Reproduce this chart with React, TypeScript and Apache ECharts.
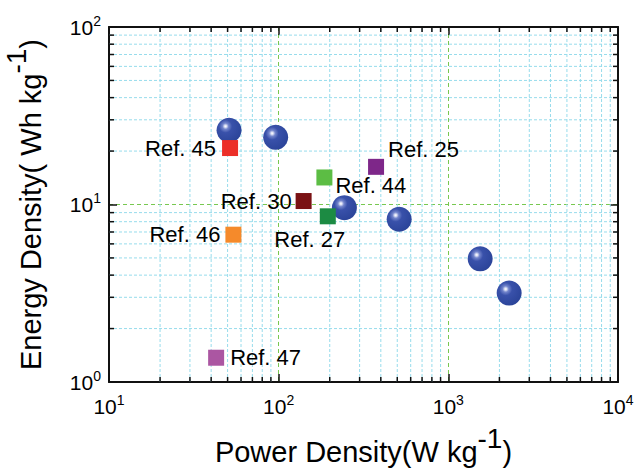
import React, { useEffect, useRef } from "react";
import * as echarts from "echarts";

// ---- data ----
const samplePower = [51, 96, 244, 513, 1540, 2283];
const sampleEnergy = [26.2, 23.9, 9.6, 8.26, 4.94, 3.17];

const refNames = ["Ref. 45", "Ref. 30", "Ref. 44", "Ref. 25", "Ref. 27", "Ref. 46", "Ref. 47"];
const refPower = [51.7, 140.3, 186, 375, 194.8, 54.1, 42.8];
const refEnergy = [20.8, 10.46, 14.2, 16.3, 8.58, 6.76, 1.37];

const xMinor = [20, 30, 40, 50, 60, 70, 80, 90, 200, 300, 400, 500, 600, 700, 800, 900, 2000, 3000, 4000, 5000, 6000, 7000, 8000, 9000];
const yMinor = [2, 3, 4, 5, 6, 7, 8, 9, 20, 30, 40, 50, 60, 70, 80, 90];

// ---- styles ----
const refColors = ["#ec2f28", "#7a1214", "#5cbd44", "#7e2789", "#1c8b43", "#f58a2b", "#ab56a2"];
const refLabelStyles: any[] = [
  { position: "left", distance: 6 },
  { position: "left", distance: 4 },
  { position: [19, 16], align: "left", verticalAlign: "middle" },
  { position: [20, -9], align: "left", verticalAlign: "middle" },
  { position: [-10, 31], align: "center", verticalAlign: "middle" },
  { position: "left", distance: 5 },
  { position: "right", distance: 6 },
];

const FONT = "'Liberation Sans', Arial, Helvetica, sans-serif";
const X_MIN = 10, X_MAX = 10000, Y_MIN = 1, Y_MAX = 100;

const tickRich = {
  b: { fontSize: 21, fontFamily: FONT, color: "#000", lineHeight: 24 },
  s: { fontSize: 14, fontFamily: FONT, color: "#000", lineHeight: 16, padding: [0, 0, 13, 0] },
};
const titleRich = {
  a: { fontSize: 29, fontFamily: FONT, color: "#000", lineHeight: 32 },
  s: { fontSize: 28, fontFamily: FONT, color: "#000", lineHeight: 30, padding: [0, 0, 28, 0] },
};
const expFormatter = (v: number) => `{b|10}{s|${Math.round(Math.log10(v))}}`;

export default function App() {
  const ref = useRef<HTMLDivElement>(null);
  useEffect(() => {
    document.body.style.margin = "0";
    const chart = echarts.init(ref.current!, null, { renderer: "svg" });
    const axisLine = { show: true, lineStyle: { color: "#111", width: 2 } };
    const majorTick = { show: true, inside: true, length: 8, lineStyle: { color: "#111", width: 1.5 } };
    const majorSplit = { show: true, lineStyle: { color: "#78c850", width: 1, type: [4, 3] } };
    const minorStyle = { stroke: "#97dcec", lineWidth: 1, lineDash: [3, 2] };
    const tickStyle = { stroke: "#111", lineWidth: 1.5 };

    const sphere = new echarts.graphic.RadialGradient(0.36, 0.34, 0.72, [
      { offset: 0, color: "#ffffff" },
      { offset: 0.06, color: "#dfe3f5" },
      { offset: 0.17, color: "#7385cc" },
      { offset: 0.36, color: "#3951aa" },
      { offset: 1, color: "#2a4398" },
    ]);

    const option: any = {
      animation: false,
      grid: { left: 109, top: 27, width: 509, height: 355, containLabel: false, outerBoundsMode: "none" },
      xAxis: [
        {
          type: "log", logBase: 10, min: X_MIN, max: X_MAX, position: "bottom",
          axisLine, axisTick: majorTick, splitLine: majorSplit, minorTick: { show: false },
          axisLabel: { formatter: expFormatter, rich: tickRich, margin: 12 },
          name: "{a|Power Density(W kg}{s|-1}{a|)}",
          nameLocation: "middle", nameGap: 44,
          nameTextStyle: { rich: titleRich },
        },
        {
          type: "log", logBase: 10, min: X_MIN, max: X_MAX, position: "top",
          axisLine, axisTick: majorTick, splitLine: { show: false }, axisLabel: { show: false },
        },
      ],
      yAxis: [
        {
          type: "log", logBase: 10, min: Y_MIN, max: Y_MAX, position: "left",
          axisLine, axisTick: majorTick, splitLine: majorSplit,
          axisLabel: { formatter: expFormatter, rich: tickRich, margin: 8 },
          name: "{a|Energy Density( Wh kg}{s|-1}{a|)}",
          nameLocation: "middle", nameGap: 46, nameRotate: 90,
          nameTextStyle: { rich: titleRich },
        },
        {
          type: "log", logBase: 10, min: Y_MIN, max: Y_MAX, position: "right",
          axisLine, axisTick: majorTick, splitLine: { show: false }, axisLabel: { show: false },
        },
      ],
      series: [
        {
          type: "custom", silent: true, z: 1, xAxisIndex: 0, yAxisIndex: 0,
          encode: { x: 0, y: 1 },
          data: xMinor.map((v) => [v, Y_MIN]),
          renderItem: (params: any, api: any) => {
            const v = api.value(0);
            const b = api.coord([v, Y_MIN]);
            const t = api.coord([v, Y_MAX]);
            return {
              type: "group",
              children: [
                { type: "line", shape: { x1: b[0], y1: b[1], x2: t[0], y2: t[1] }, style: minorStyle },
                { type: "line", shape: { x1: b[0], y1: b[1], x2: b[0], y2: b[1] - 5 }, style: tickStyle },
                { type: "line", shape: { x1: t[0], y1: t[1], x2: t[0], y2: t[1] + 5 }, style: tickStyle },
              ],
            };
          },
        },
        {
          type: "custom", silent: true, z: 1, xAxisIndex: 0, yAxisIndex: 0,
          encode: { x: 0, y: 1 },
          data: yMinor.map((v) => [X_MIN, v]),
          renderItem: (params: any, api: any) => {
            const v = api.value(1);
            const l = api.coord([X_MIN, v]);
            const r = api.coord([X_MAX, v]);
            return {
              type: "group",
              children: [
                { type: "line", shape: { x1: l[0], y1: l[1], x2: r[0], y2: r[1] }, style: minorStyle },
                { type: "line", shape: { x1: l[0], y1: l[1], x2: l[0] + 5, y2: l[1] }, style: tickStyle },
                { type: "line", shape: { x1: r[0], y1: r[1], x2: r[0] - 5, y2: r[1] }, style: tickStyle },
              ],
            };
          },
        },
        {
          type: "scatter", z: 5, symbol: "circle", symbolSize: 25,
          itemStyle: { color: sphere, opacity: 1 },
          data: samplePower.map((p, i) => [p, sampleEnergy[i]]),
        },
        {
          type: "scatter", z: 6, symbol: "rect", symbolSize: 16,
          data: refNames.map((n, i) => ({
            name: n,
            value: [refPower[i], refEnergy[i]],
            itemStyle: { color: refColors[i], opacity: 1 },
            label: {
              show: true, formatter: "{b}", fontSize: 22, fontFamily: FONT, color: "#000",
              ...refLabelStyles[i],
            },
          })),
        },
      ],
    };
    chart.setOption(option);
    return () => chart.dispose();
  }, []);
  return <div ref={ref} style={{ width: 635, height: 471 }} />;
}
